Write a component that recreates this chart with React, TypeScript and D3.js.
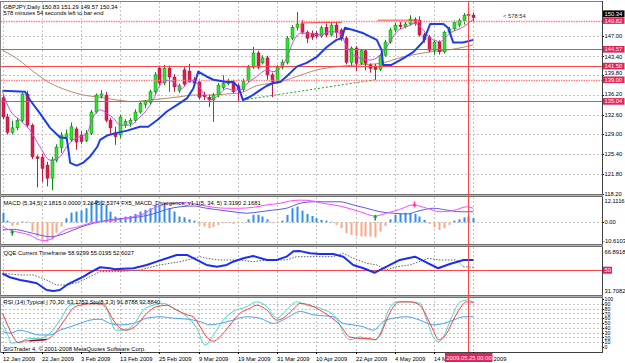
import React from "react";
import * as d3 from "d3";

const FONT = "'Liberation Sans', Arial, Helvetica, sans-serif";
const FS = 5.8;

// ---------- price bars (daily GBPJPY, 12 Jan 2009 .. 26 May 2009) ----------
const openPrices = [
  135.7, 132.2, 129.4, 130.2, 131.6, 136.4, 130.7, 124.9, 124.8, 123.4,
  121.0, 124.3, 126.6, 128.5, 128.0, 130.0, 128.9, 127.9, 129.2, 133.1,
  136.0, 136.2, 131.6, 129.3, 128.9, 130.7, 131.0, 131.6, 133.1, 134.5,
  134.8, 136.8, 141.1, 138.4, 141.1, 139.5, 137.0, 140.8, 140.6, 139.0,
  138.6, 136.2, 135.8, 135.3, 136.2, 137.6, 138.3, 138.6, 137.9, 137.2,
  138.9, 141.3, 143.9, 142.1, 143.0, 139.9, 138.6, 141.3, 142.2, 146.6,
  148.6, 149.2, 147.7, 147.5, 147.5, 147.0, 148.6, 147.2, 149.0, 148.1,
  146.6, 142.2, 144.8, 142.0, 144.3, 141.7, 141.5, 140.9, 143.5, 145.9,
  148.1, 149.0, 148.7, 149.2, 150.0, 149.9, 147.2, 146.8, 144.4, 145.9,
  144.1, 147.7, 148.3, 149.0, 149.8, 150.95, 150.83,
];
const highPrices = [
  136.3, 132.8, 131.5, 132.0, 136.6, 137.0, 131.0, 125.2, 125.5, 124.0,
  124.9, 127.2, 129.4, 129.9, 131.2, 130.4, 129.6, 129.8, 133.5, 136.5,
  137.1, 136.8, 132.0, 130.4, 132.6, 131.8, 132.0, 133.6, 135.1, 135.3,
  137.2, 140.4, 141.6, 141.7, 141.6, 140.0, 138.3, 141.3, 141.9, 139.5,
  139.0, 136.8, 136.2, 136.6, 138.4, 139.8, 139.2, 139.0, 138.3, 139.2,
  141.7, 145.0, 144.3, 143.5, 143.4, 140.3, 141.7, 142.7, 147.0, 149.0,
  151.4, 149.9, 148.0, 148.0, 147.9, 148.9, 149.3, 149.6, 149.5, 148.4,
  147.0, 145.1, 145.2, 144.6, 144.6, 142.0, 141.9, 143.8, 146.3, 148.5,
  149.4, 149.6, 149.6, 150.8, 150.4, 150.6, 147.6, 147.2, 146.3, 146.2,
  148.0, 148.7, 149.9, 150.2, 151.2, 151.1, 151.29,
];
const lowPrices = [
  131.8, 129.0, 129.0, 129.8, 131.2, 130.3, 124.5, 119.3, 120.3, 119.5,
  118.8, 123.9, 125.6, 127.9, 127.6, 126.2, 127.2, 127.6, 128.9, 132.8,
  135.6, 131.2, 128.9, 127.1, 128.3, 130.2, 130.4, 131.2, 132.8, 133.8,
  134.4, 136.3, 138.0, 138.0, 136.8, 136.8, 136.6, 137.8, 138.5, 138.0,
  135.4, 135.3, 134.0, 131.3, 135.8, 137.2, 138.0, 136.5, 135.0, 136.8,
  138.6, 141.0, 140.9, 141.8, 139.0, 135.8, 138.2, 140.9, 141.8, 146.2,
  148.0, 147.3, 145.7, 146.3, 146.6, 146.7, 146.8, 146.9, 146.6, 146.1,
  141.8, 141.6, 140.6, 141.7, 140.7, 140.3, 139.0, 140.6, 143.2, 145.6,
  147.7, 148.3, 148.4, 148.9, 148.9, 146.9, 145.8, 144.0, 143.6, 143.6,
  143.8, 147.4, 147.9, 148.6, 149.1, 150.7, 149.57,
];
const closePrices = [
  132.2, 129.4, 130.2, 131.6, 136.4, 130.7, 124.9, 124.6, 122.8, 121.0,
  124.3, 126.7, 128.9, 129.1, 130.4, 127.6, 127.7, 129.2, 133.1, 136.2,
  136.4, 131.6, 130.2, 128.6, 132.2, 131.4, 131.6, 133.1, 134.7, 135.0,
  136.8, 139.9, 138.4, 141.1, 139.5, 137.7, 137.9, 138.2, 138.6, 138.4,
  135.8, 135.9, 135.3, 136.2, 138.0, 138.3, 138.8, 136.8, 137.2, 138.7,
  141.3, 143.9, 141.3, 143.0, 139.9, 138.6, 141.3, 142.2, 146.6, 148.6,
  149.2, 147.7, 146.6, 146.8, 147.0, 148.5, 147.2, 149.0, 147.7, 146.6,
  142.2, 144.8, 142.0, 144.3, 142.0, 141.1, 140.9, 143.5, 145.9, 148.1,
  149.0, 148.7, 149.2, 150.1, 149.3, 147.2, 146.3, 144.4, 145.9, 144.1,
  147.7, 148.3, 149.5, 149.8, 150.8, 150.8, 150.34,
];

// ---------- axes ----------
// the last two date labels are partly hidden behind the vertical-line date box,
// so only their visible parts are shown (as in the original screenshot)
const dateLabels = [
  "12 Jan 2009", "22 Jan 2009", "3 Feb 2009", "13 Feb 2009", "25 Feb 2009",
  "9 Mar 2009", "19 Mar 2009", "31 Mar 2009", "10 Apr 2009", "22 Apr 2009",
  "4 May 2009", "14 M", "2009",
];
const dateLabelBars = [0, 8, 16, 24, 32, 40, 48, 56, 64, 72, 80, 88, 96];
const dateLabelShift = [0, 0, 0, 0, 0, 0, 0, 0, 0, 0, 0, 0, 20.5];
const priceTicks = [147.0, 143.4, 139.8, 136.2, 132.6, 129.0, 125.4, 121.8, 118.2];
const levelPrices = [149.82, 144.57, 141.5, 139.0, 135.04];
const levelDotted = [true, false, false, true, false];
const rsiLevels = [100, 90, 80, 70, 60, 50, 40, 30, 20, 10, 0];

// ---------- main-chart indicators: [bar, price] ----------
const blueTrail: [number, number][] = [
  [0, 137.0], [4.6, 136.8], [5.6, 135.3], [7.6, 132.9], [9.7, 130.2], [11.7, 128.5],
  [13.1, 128.3], [13.8, 123.8], [15.1, 123.3], [16.4, 123.8], [17.8, 124.9], [19.3, 126.7],
  [19.9, 128.0], [21.3, 128.8], [22.9, 129.2], [25.4, 129.7], [28, 130.4], [29.7, 130.4],
  [31.5, 131.6], [33.5, 133.2], [35.6, 134.4], [37.6, 135.6], [38.9, 137.4], [39.9, 140.5],
  [41.6, 139.6], [43, 139.0], [45.7, 138.6], [47, 138.6], [48.1, 137.7], [49, 135.3],
  [50.5, 135.9], [52.5, 137.1], [53.9, 137.9], [55.2, 138.4], [56.6, 138.6], [57.9, 139.6],
  [60, 141.4], [62, 142.1], [64.1, 143.2], [66.1, 145.0], [68.1, 146.3], [69.2, 146.6],
  [69.8, 148.5], [71.5, 148.1], [73.6, 147.5], [76.3, 146.3], [77.3, 144.4], [77.6, 141.7],
  [79.3, 141.7], [81.7, 142.9], [83.8, 144.1], [85.8, 146.0], [87.2, 149.2], [89.9, 149.2],
  [90.9, 148.4], [91.9, 145.8], [93.9, 145.8], [96, 146.3],
];
const violetMA: [number, number][] = [
  [0, 136.8], [1.5, 133.5], [3.6, 131.6], [5.6, 129.8], [7.6, 126.8], [9.7, 124.3],
  [11.7, 124.9], [13.1, 126.8], [14.4, 128.0], [15.8, 128.6], [17.2, 129.2], [18.5, 132.2],
  [19.9, 133.5], [21.2, 132.9], [22.6, 132.0], [24, 130.7], [26, 130.7], [28, 132.2],
  [29.4, 133.5], [30.7, 135.3], [32.1, 138.0], [33.5, 138.9], [34.8, 138.6], [36.5, 137.4],
  [38.2, 138.9], [39.6, 138.4], [41, 136.5], [42.3, 135.3], [43.7, 135.9], [45.7, 137.4],
  [47, 137.1], [48.4, 137.1], [49.5, 138.0], [51.8, 139.6], [53.9, 140.8], [55.2, 140.5],
  [56.6, 141.1], [57.9, 142.9], [59.3, 146.0], [60.7, 147.5], [62.7, 147.5], [64.7, 147.2],
  [66.8, 147.8], [68.8, 147.5], [70.2, 145.0], [72.2, 143.2], [74.9, 142.6], [77, 143.5],
  [78.3, 145.0], [80.4, 147.8], [82.4, 148.7], [84.1, 149.3], [85.5, 148.4], [87.2, 146.6],
  [89.2, 146.0], [91.2, 147.5], [94, 148.7], [96, 150.1],
];
const brownMA: [number, number][] = [
  [0, 144.4], [2.9, 142.9], [6.3, 140.5], [9.7, 138.4], [13.1, 137.1], [16.5, 136.2],
  [19.9, 135.8], [23.3, 135.3], [26.7, 135.0], [30.1, 135.3], [33.5, 135.6], [36.2, 135.9],
  [38.9, 136.2], [41.6, 136.2], [45.7, 136.4], [48.4, 136.6], [51.8, 137.9], [56.6, 138.6],
  [60, 139.6], [64.1, 140.8], [68.1, 141.4], [72.2, 141.7], [77, 142.0], [81.7, 143.2],
  [87.2, 144.1], [92.6, 144.7], [96, 145.4],
];
const greenTrend: [number, number][] = [[49, 135.3], [76, 139.0]];
const redSegmentA: [number, number][] = [[60.9, 147.9], [60.9, 149.4], [69.2, 149.5]];
const redSegmentB: [number, number][] = [[76.5, 149.9], [84.5, 149.9]];

// ---------- MACD panel ----------
const macdHist = [
  5.2, 0.9, -2.0, -1.5, 0.4, 0.3, -5.0, -7.7, -9.5, -10.6,
  -9.5, -5.7, -2.3, 2.2, 5.2, 5.8, 6.3, 7.6, 10.3, 12.0,
  11.7, 9.4, 5.8, 3.1, 2.2, 3.1, 3.4, 4.5, 5.8, 6.7,
  7.6, 9.4, 9.4, 10.3, 7.6, 5.8, 3.1, 2.7, 1.6, 0.9,
  -1.4, -2.3, -3.2, -2.7, -1.4, -0.5, -0.3, -0.9, -0.3, -0.2,
  1.6, 4.0, 4.0, 3.1, 1.6, -0.5, -0.4, 0.9, 4.0, 7.6,
  8.5, 6.3, 4.5, 3.4, 2.2, 1.3, 0.9, 0.3, -1.4, -3.2,
  -5.9, -6.8, -7.4, -7.7, -7.7, -7.7, -8.1, -5.0, -2.0, 1.6,
  4.0, 4.9, 5.2, 4.9, 4.5, 3.1, 1.3, -0.9, -2.7, -4.1,
  -3.2, -1.4, 0.9, 1.6, 2.7, 3.1, 2.2,
];
const macdViolet: [number, number][] = [
  [0, -2.4], [1.5, -4.2], [3.6, -5.6], [5.6, -6.9], [7.6, -9.6], [8.7, -9.9], [10.7, -7.8],
  [12.7, -4.2], [15.1, -2.7], [17.8, -0.5], [19.9, 0.3], [21.9, 0.9], [24, 1.6], [26.7, 3.0],
  [28.7, 4.5], [30.7, 7.6], [32.8, 9.4], [34.8, 10.3], [37.6, 10.6], [40.3, 9.4], [43, 8.1],
  [45.7, 7.6], [48.4, 7.6], [51.1, 8.1], [53.9, 9.4], [56.6, 10.3], [58.6, 11.5], [60.7, 12.0],
  [63.4, 11.5], [64.7, 10.6], [68.8, 8.8], [72.9, 5.7], [75.9, 3.4], [78.3, 4.9], [81, 7.0],
  [83.7, 9.4], [86.5, 7.6], [89.2, 5.7], [91.9, 6.3], [94.6, 8.4], [96, 7.6],
];
const macdBlue: [number, number][] = [
  [0, -4.2], [2.2, -3.8], [4.9, -5.1], [7.6, -6.9], [9.7, -7.8], [11.7, -6.9], [14.4, -4.2],
  [17.2, -1.5], [19.9, 0.3], [22.6, 1.6], [25.3, 2.2], [28, 3.0], [30.7, 4.5], [33.5, 7.0],
  [36.2, 8.4], [38.9, 8.8], [41.6, 7.6], [44.3, 6.6], [47, 5.7], [49.8, 4.9], [52.5, 5.7],
  [55.2, 6.6], [57.9, 7.6], [60.7, 10.3], [63.4, 11.1], [68.8, 11.1], [71.5, 9.4], [74.2, 7.6],
  [77, 5.7], [79.7, 4.9], [82.4, 4.5], [85.1, 6.3], [87.8, 7.6], [90.6, 6.6], [93.3, 5.7],
  [96, 5.7],
];
const macdArrowsUp: [number, number][] = [[2, -5.6], [76, 2.6]];
const macdArrowsDown: [number, number][] = [[84, 9.6]];

// ---------- QQE panel ----------
const qqeFast: [number, number][] = [
  [0, 47], [1.5, 43.8], [3.6, 41.4], [5.6, 39.9], [7, 38.5], [9, 32.6], [10.4, 31.7],
  [11.7, 32.6], [13.1, 37.0], [15.1, 41.4], [16.5, 44.3], [17.8, 47.8], [19.9, 52.6],
  [21.9, 51.7], [22.9, 50.8], [24.6, 51.3], [26.7, 51.7], [29.4, 54.6], [31.4, 57.5],
  [33.5, 60.5], [35.5, 63.4], [37.6, 63.4], [39.6, 59.0], [41.6, 54.6], [43.7, 53.1],
  [45.7, 54.6], [47, 57.5], [49.1, 60.5], [51.1, 62.5], [53.9, 59.0], [55.9, 59.0],
  [57.9, 61.9], [59.3, 66.6], [60.7, 66.8], [62.7, 65], [64.7, 64.3], [67.4, 64.3],
  [69.5, 61.9], [71.5, 54.6], [73.6, 51.7], [75.9, 47.8], [78.3, 53.1], [81, 59.0],
  [84.1, 61.9], [86.5, 56.6], [88.8, 51.7], [91.2, 55.5], [94, 59.0], [96, 58.9],
];
const qqeSlow: [number, number][] = [
  [0, 47.3], [3.6, 45.8], [6.3, 45.8], [9, 41.4], [11, 37.0], [13.1, 37.0], [15.8, 39.9],
  [17.8, 44.3], [19.9, 48.7], [23.3, 48.7], [28, 50.2], [32.1, 54.6], [36.2, 57.5],
  [40.3, 61.9], [41.6, 60.5], [44.3, 59.0], [48.4, 59.0], [51.1, 57.5], [53.9, 59.0],
  [57.9, 59.0], [60, 61.9], [67.4, 61.9], [69.5, 64.9], [71.5, 60.5], [74.2, 56.1],
  [76.3, 54.6], [78.3, 50.2], [80.4, 53.1], [83.1, 54.6], [86.8, 60.5], [89.2, 59.0],
  [92.6, 59.0], [93.9, 53.1], [96, 52.6],
];

// ---------- RSI / Stochastic panel ----------
const stoSignal: [number, number][] = [
  [0, 70], [0.9, 49], [2.2, 21], [3.2, 9], [4.9, 13], [7, 13], [9, 16], [10.4, 25], [11.7, 42],
  [13.1, 63], [14.4, 81], [15.8, 87], [17.8, 90], [19.9, 90], [21.2, 81], [22.6, 56], [24, 39],
  [25.3, 35], [27.4, 46], [29.4, 70], [31.4, 84], [33.5, 87], [35.5, 77], [37.6, 67], [38.9, 63],
  [40.3, 42], [41.6, 21], [43, 12], [44.3, 21], [46.4, 46], [48.4, 70], [50.5, 81], [51.8, 87],
  [53.9, 77], [55.9, 56], [57.2, 60], [59.3, 79], [60.7, 91], [62.7, 87], [64.7, 77], [66.8, 63],
  [68.8, 46], [70.8, 21], [72.9, 18], [75, 18], [75.9, 15], [77, 25], [78.3, 56], [79.7, 84],
  [81, 94], [83.1, 94], [85.1, 87], [86.5, 63], [87.8, 35], [88.9, 15], [90.6, 29], [91.9, 56],
  [93.3, 81], [94.6, 94], [96, 92.9],
];
const stoMain: [number, number][] = [
  [0, 49], [0.9, 29], [1.9, 8], [3.6, 11], [5.6, 18], [7.6, 18], [9.7, 29], [11.7, 56], [13.8, 87],
  [15.8, 91], [18.5, 91], [20.6, 91], [21.9, 63], [23, 35], [24.6, 35], [26.7, 46], [28.7, 77],
  [30.7, 87], [32.8, 91], [34.8, 81], [37.6, 63], [39.6, 39], [41.3, 4], [43, 25], [45, 56],
  [47, 74], [49.8, 84], [51.8, 94], [53.9, 84], [55.9, 60], [57.9, 77], [60, 94], [62, 87],
  [64.7, 81], [68.1, 60], [69.5, 29], [70.8, 15], [72.9, 21], [75, 15], [75.9, 15], [77.3, 35],
  [78.7, 77], [80.4, 94], [83.1, 94], [85.1, 91], [86.5, 56], [87.8, 21], [88.9, 11], [89.9, 21],
  [91.6, 63], [93.3, 94], [95, 98], [96, 91.9],
];
const rsiLine: [number, number][] = [
  [0, 32], [1.5, 29], [3.6, 35], [4.9, 32], [7.6, 25], [9.7, 25], [11.7, 35], [13.8, 42],
  [15.8, 49], [17.8, 56], [19.9, 58], [21.9, 49], [24, 46], [26.7, 49], [29.4, 60], [32.1, 63],
  [34.8, 60], [37.6, 58], [40.3, 53], [42.3, 46], [44.3, 49], [47, 56], [49.8, 63], [52.5, 60],
  [55.2, 49], [57.9, 60], [60.7, 74], [63.4, 67], [67.4, 63], [69.5, 49], [71.5, 46], [73.6, 42],
  [75.6, 35], [77.6, 53], [79.7, 60], [82.4, 63], [85.1, 56], [87.8, 46], [89.9, 49], [91.9, 56],
  [94, 63], [96, 63.2],
];
const rsiDarkMark: [number, number][] = [[5.5, 13], [9, 15.5]];

export default function App() {
  const W = 625;
  const H = 363;
  const AXX = 602;
  const P = {
    main: [2, 194],
    macd: [197, 244],
    qqe: [247, 295],
    rsi: [297, 352],
  };

  const xBar = d3.scaleLinear().domain([0, 96]).range([2.5, 2.5 + 96 * 4.905]);
  const yMain = d3.scaleLinear().domain([118.11, 153.22]).range([194, 2]);
  const yMacd = d3.scaleLinear().domain([-10.6103, 12.1116]).range([241.9, 199.9]);
  const yQqe = d3.scaleLinear().domain([31.7082, 66.8918]).range([291, 251]);
  const yRsi = d3.scaleLinear().domain([0, 100]).range([347, 299]);

  const mk = (ys: d3.ScaleLinear<number, number>, curve = d3.curveLinear) =>
    d3
      .line<[number, number]>()
      .x((d) => xBar(d[0]))
      .y((d) => ys(d[1]))
      .curve(curve);

  const lineMain = mk(yMain);
  const lineMainSmooth = mk(yMain, d3.curveMonotoneX);
  const lineMacd = mk(yMacd, d3.curveMonotoneX);
  const lineQqe = mk(yQqe);
  const lineRsi = mk(yRsi, d3.curveMonotoneX);

  const gridX = dateLabelBars.map((b) => Math.round(xBar(b)) + 0.5);
  const vLineX = Math.round(xBar(95)) + 0.5;

  const red = "#ff4646";
  const boxRed = "#e3245a";
  const gridCol = "#c4c4c4";
  const BOXH = 6.6;

  const txt = (x: number, y: number, s: string, extra: any = {}) => (
    <text x={x} y={y} fontSize={FS} fontFamily={FONT} fill="#000" {...extra}>
      {s}
    </text>
  );

  // nudge axis tick labels away from the coloured level boxes
  const tickLabelY = (t: number) => {
    let cy = yMain(t);
    levelPrices.forEach((lv) => {
      const ly = yMain(lv);
      const d = cy - ly;
      if (Math.abs(d) < 7.2) cy = ly + (d < 0 ? -7.2 : 7.2);
    });
    return cy;
  };

  const vGrid = (top: number, bottom: number) =>
    gridX.map((gx, k) => (
      <line key={k} x1={gx} x2={gx} y1={top} y2={bottom} stroke={gridCol} strokeWidth={1} strokeDasharray="2,2" />
    ));

  const arrowUp = (cx: number, cy: number, color: string, key: string) => (
    <path
      key={key}
      d={`M${cx},${cy - 3} L${cx + 2.2},${cy} L${cx + 0.8},${cy} L${cx + 0.8},${cy + 3} L${cx - 0.8},${cy + 3} L${cx - 0.8},${cy} L${cx - 2.2},${cy} Z`}
      fill={color}
    />
  );
  const arrowDown = (cx: number, cy: number, color: string, key: string) => (
    <path
      key={key}
      d={`M${cx},${cy + 3} L${cx + 2.2},${cy} L${cx + 0.8},${cy} L${cx + 0.8},${cy - 3} L${cx - 0.8},${cy - 3} L${cx - 0.8},${cy} L${cx - 2.2},${cy} Z`}
      fill={color}
    />
  );

  const priceBox = (v: number, fill: string, key: string) => {
    const cy = yMain(v);
    return (
      <g key={key}>
        <rect x={AXX + 1} y={cy - BOXH / 2} width={21.5} height={BOXH} fill={fill} />
        <text x={AXX + 2.5} y={cy + 2.0} fontSize={FS} fontFamily={FONT} fill="#fff">
          {v.toFixed(2)}
        </text>
      </g>
    );
  };

  return (
    <svg
      width={W}
      height={H}
      viewBox={`0 0 ${W} ${H}`}
      style={{ position: "fixed", left: 0, top: 0, background: "#fff" }}
    >
      <defs>
        <clipPath id="cMain"><rect x={1} y={P.main[0]} width={AXX - 1} height={P.main[1] - P.main[0]} /></clipPath>
        <clipPath id="cMacd"><rect x={1} y={P.macd[0]} width={AXX - 1} height={P.macd[1] - P.macd[0]} /></clipPath>
        <clipPath id="cQqe"><rect x={1} y={P.qqe[0]} width={AXX - 1} height={P.qqe[1] - P.qqe[0]} /></clipPath>
        <clipPath id="cRsi"><rect x={1} y={P.rsi[0]} width={AXX - 1} height={P.rsi[1] - P.rsi[0]} /></clipPath>
      </defs>
      <rect x={0} y={0} width={W} height={H} fill="#fff" />

      {/* ================= MAIN PANEL ================= */}
      <g clipPath="url(#cMain)">
        {vGrid(P.main[0], P.main[1])}
        {priceTicks.map((t, k) => (
          <line key={k} x1={1} x2={AXX} y1={Math.round(yMain(t)) + 0.5} y2={Math.round(yMain(t)) + 0.5} stroke={gridCol} strokeDasharray="2,2" />
        ))}
        <path d={lineMainSmooth(brownMA) || ""} fill="none" stroke="#b88a6a" strokeWidth={1} />
        <path d={lineMain(greenTrend) || ""} fill="none" stroke="#2a9a2a" strokeWidth={1} strokeDasharray="2,2" />
        {openPrices.map((o, i) => {
          const c = closePrices[i];
          const up = c >= o;
          const cx = Math.round(xBar(i)) + 0.5;
          const yt = yMain(Math.max(o, c));
          const yb = yMain(Math.min(o, c));
          return (
            <g key={i}>
              <line x1={cx} x2={cx} y1={yMain(highPrices[i])} y2={yMain(lowPrices[i])} stroke={up ? "#108c10" : "#c8174a"} strokeWidth={1} />
              <rect
                x={cx - 1.5}
                y={yt}
                width={3}
                height={Math.max(1, yb - yt)}
                fill={up ? "#2ee62e" : "#dc1e4e"}
                stroke={up ? "#0f7f0f" : "#a8123a"}
                strokeWidth={0.5}
              />
            </g>
          );
        })}
        {levelPrices.map((v, k) => {
          const yy = Math.round(yMain(v)) + 0.5;
          return levelDotted[k] ? (
            <line key={k} x1={1} x2={AXX} y1={yy} y2={yy} stroke="#ff8080" strokeWidth={1.4} strokeDasharray="1.5,1" />
          ) : (
            <line key={k} x1={1} x2={AXX} y1={yy} y2={yy} stroke={red} strokeWidth={1} />
          );
        })}
        <path d={lineMain(redSegmentA) || ""} fill="none" stroke={red} strokeWidth={1} />
        <path d={lineMain(redSegmentB) || ""} fill="none" stroke={red} strokeWidth={1} />
        <path d={lineMainSmooth(violetMA) || ""} fill="none" stroke="#c050e0" strokeWidth={1} />
        <path d={lineMain(blueTrail) || ""} fill="none" stroke="#1c3cf0" strokeWidth={2} strokeLinejoin="round" />
      </g>
      {txt(3.5, 8.5, "GBPJPY,Daily  150.83 151.29 149.57 150.34")}
      {txt(3.5, 15, "578 minutes 54 seconds left to bar end")}
      {txt(503, 18, "<  578:54", { fill: "#333" })}

      {/* main price axis */}
      {priceTicks.map((t, k) => (
        <g key={k}>
          <line x1={AXX} x2={AXX + 2} y1={Math.round(yMain(t)) + 0.5} y2={Math.round(yMain(t)) + 0.5} stroke="#000" />
          {txt(AXX + 2.5, tickLabelY(t) + 2.0, t.toFixed(2))}
        </g>
      ))}
      <g>
        <rect x={AXX + 1} y={yMain(149.82) - 10.2} width={21.5} height={BOXH} fill="#000" />
        <text x={AXX + 2.5} y={yMain(149.82) - 4.9} fontSize={FS} fontFamily={FONT} fill="#fff">150.34</text>
      </g>
      {levelPrices.map((v, k) => priceBox(v, boxRed, "b" + k))}

      {/* ================= MACD PANEL ================= */}
      <g clipPath="url(#cMacd)">
        {vGrid(P.macd[0], P.macd[1])}
        <line x1={1} x2={AXX} y1={Math.round(yMacd(0)) + 0.5} y2={Math.round(yMacd(0)) + 0.5} stroke={gridCol} strokeDasharray="2,2" />
        {macdHist.map((v, i) => {
          const cx = Math.round(xBar(i));
          const y0 = yMacd(0);
          const y1 = yMacd(v);
          return (
            <rect key={i} x={cx - 0.5} y={Math.min(y0, y1)} width={2} height={Math.max(0.6, Math.abs(y1 - y0))} fill={v >= 0 ? "#2f8ff0" : "#f8a88c"} />
          );
        })}
        <path d={lineMacd(macdBlue) || ""} fill="none" stroke="#5a5ae6" strokeWidth={1} />
        <path d={lineMacd(macdViolet) || ""} fill="none" stroke="#ff48ff" strokeWidth={1} />
        {macdArrowsUp.map((d, k) => arrowUp(xBar(d[0]), yMacd(d[1]), "#1f9a2a", "u" + k))}
        {macdArrowsDown.map((d, k) => arrowDown(xBar(d[0]), yMacd(d[1]), "#ff3a8a", "d" + k))}
      </g>
      {txt(3.5, 205, "MACD (5,34,5) 2.1815 0.0000 3.2645 2.5374  FX5_MACD_Divergence_v1.1(5, 34, 5) 3.3190 2.1681")}
      {txt(AXX + 2.5, 203, "12.1116")}
      <line x1={AXX} x2={AXX + 2} y1={Math.round(yMacd(0)) + 0.5} y2={Math.round(yMacd(0)) + 0.5} stroke="#000" />
      {txt(AXX + 2.5, yMacd(0) + 2.1, "0.00")}
      {txt(AXX + 1, 243, "-10.6103")}

      {/* ================= QQE PANEL ================= */}
      <g clipPath="url(#cQqe)">
        {vGrid(P.qqe[0], P.qqe[1])}
        <line x1={1} x2={AXX} y1={Math.round(yQqe(50)) + 0.5} y2={Math.round(yQqe(50)) + 0.5} stroke={red} strokeWidth={1} />
        <path d={lineQqe(qqeSlow) || ""} fill="none" stroke="#606060" strokeWidth={1} strokeDasharray="1.5,1.5" />
        <path d={lineQqe(qqeFast) || ""} fill="none" stroke="#1c2ff0" strokeWidth={2} strokeLinejoin="round" />
      </g>
      {txt(3.5, 255, "QQE Current Timeframe 58.9299 55.0195 52.6027")}
      {txt(AXX + 2.5, 253.5, "66.8918")}
      <rect x={AXX + 1} y={yQqe(50) - 3.5} width={9} height={7} fill={boxRed} />
      <text x={AXX + 2.5} y={yQqe(50) + 2.1} fontSize={FS} fontFamily={FONT} fill="#fff">50</text>
      {txt(AXX + 2.5, 293, "31.7082")}

      {/* ================= RSI PANEL ================= */}
      <g clipPath="url(#cRsi)">
        {vGrid(P.rsi[0], P.rsi[1])}
        {rsiLevels.slice(1, -1).map((v, k) => (
          <line key={k} x1={1} x2={AXX} y1={Math.round(yRsi(v)) + 0.5} y2={Math.round(yRsi(v)) + 0.5} stroke={gridCol} strokeDasharray="2,2" />
        ))}
        <path d={lineRsi(rsiLine) || ""} fill="none" stroke="#4aa2f2" strokeWidth={1} />
        <path d={lineRsi(stoMain) || ""} fill="none" stroke="#4cd4d0" strokeWidth={1} />
        <path d={lineRsi(stoSignal) || ""} fill="none" stroke="#ff3c3c" strokeWidth={1} />
        <path d={lineRsi(rsiDarkMark) || ""} fill="none" stroke="#9a1020" strokeWidth={1.5} />
      </g>
      {txt(3.5, 304, "RSI (14) Typical | 70,30: 63.1753   Sto(8,3,3) 91.8788 92.8840")}
      {txt(3.5, 350.5, "SIGTrader 4, © 2001-2008 MetaQuotes Software Corp.")}
      {rsiLevels.map((v, k) => (
        <g key={k}>
          <line x1={AXX} x2={AXX + 2} y1={Math.round(yRsi(v)) + 0.5} y2={Math.round(yRsi(v)) + 0.5} stroke="#000" />
          {txt(AXX + 2.5, yRsi(v) + 2.1, String(v), { fontSize: 5.2 })}
        </g>
      ))}

      {/* ================= frames ================= */}
      <line x1={0.5} x2={0.5} y1={1} y2={P.rsi[1]} stroke="#808080" />
      <line x1={0.5} x2={AXX} y1={1.5} y2={1.5} stroke="#808080" />
      <line x1={AXX + 0.5} x2={AXX + 0.5} y1={1} y2={P.rsi[1] + 1} stroke="#404040" />
      {[P.main[1], P.macd[1], P.qqe[1]].map((yy, k) => (
        <g key={k}>
          <rect x={0.5} y={yy} width={AXX} height={3} fill="#b4b4b4" />
          <line x1={0.5} x2={AXX + 0.5} y1={yy + 0.5} y2={yy + 0.5} stroke="#707070" />
          <line x1={0.5} x2={AXX + 0.5} y1={yy + 2.5} y2={yy + 2.5} stroke="#707070" />
        </g>
      ))}
      <line x1={0.5} x2={AXX + 0.5} y1={P.rsi[1] + 0.5} y2={P.rsi[1] + 0.5} stroke="#404040" />

      {/* vertical red line across panels */}
      <line x1={vLineX} x2={vLineX} y1={2} y2={P.rsi[1]} stroke={red} strokeWidth={1} />

      {/* time axis */}
      {dateLabels.map((s, k) => (
        <g key={k}>
          <line x1={gridX[k]} x2={gridX[k]} y1={P.rsi[1]} y2={P.rsi[1] + 2} stroke="#000" />
          {txt(gridX[k] - 0.5 + dateLabelShift[k], 360.5, s)}
        </g>
      ))}
      <rect x={445} y={353} width={47.5} height={9} fill={boxRed} />
      <text x={446.5} y={360.3} fontSize={FS} fontFamily={FONT} fill="#fff">2009.05.25 00:00</text>
    </svg>
  );
}
